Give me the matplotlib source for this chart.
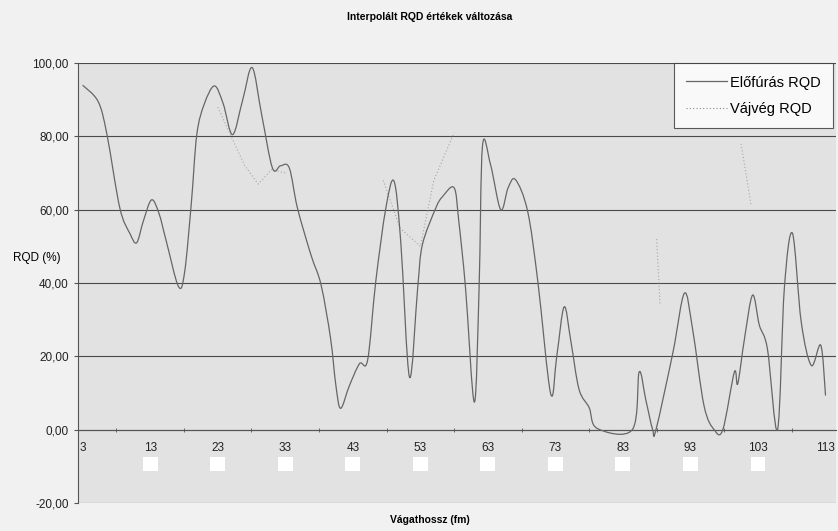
import numpy as np
import matplotlib
matplotlib.use('Agg')
import matplotlib.pyplot as plt
from matplotlib.patches import Rectangle, PathPatch
from matplotlib.path import Path
from matplotlib.lines import Line2D
from matplotlib.ticker import FuncFormatter

plt.rcParams['font.family'] = ['Liberation Sans', 'DejaVu Sans']

# Előfúrás RQD (fm, %)
elofuras_x = [3, 5.3, 6.6, 8.5, 10, 11, 12, 13.2, 14.3, 15.4, 17.2, 18.1, 19.1, 19.9,
              21, 22.5, 23.8, 25.2, 26.7, 28.1, 29.5, 31.1, 32.3, 33.6, 34.8, 36.8,
              38.3, 39.7, 40.5, 41.2, 42.5, 44, 45.2, 46.4, 47.9, 49.1, 50.1, 51.4,
              52.6, 53.3, 55.3, 56.3, 58, 58.7, 59.7, 61, 61.7, 62.2, 63.4, 64.9, 66,
              67.1, 68.9, 70.4, 72.3, 73.2, 74.3, 75.3, 76.5, 78, 79.2, 84.4, 85.4,
              86.4, 87.4, 87.9, 90.4, 92.1, 93.3, 95, 96.5, 97.8, 99.5, 100, 101,
              102.2, 103.2, 104.4, 105.9, 106.9, 108.1, 109.4, 110.9, 112.3, 113]
elofuras_rqd = [94, 89.5, 80.5, 60.5, 53.5, 51, 57, 62.7, 59, 51.3, 39, 43, 62, 80.5,
                88.8, 93.8, 89, 80.5, 90, 98.8, 86, 71.4, 72, 71.4, 60.5, 47.7,
                39.5, 25, 12, 5.8, 12, 18, 19, 40.4, 60.5, 67.8, 51.3, 14.3,
                38.5, 50.4, 60.5, 63.6, 66, 56.8, 38.5, 7.5, 38.5, 77.3, 72.3, 60, 66,
                68.2, 59.5, 40.4, 9.8, 20, 33.5, 24, 11, 6, 0.3, 0, 15.7,
                8, 0, 0, 21, 37.2, 27.6, 6.6, 0, 0, 15.7, 12.5, 24.8,
                36.7, 28.5, 22, 0, 38.5, 53.6, 29.4, 17.5, 23, 9.3]

# Vájvég RQD, only faint fragments are readable in the scan
vajveg_x = [23, 25, 27, 29, 31, 33, 46, 47.5, 50, 53, 55, 58, 86, 88, 88.5,
            99, 100.5, 102]
vajveg_rqd = [88, 80, 72, 67, 71, 70, np.nan, 68, 55, 50, 68, 81, np.nan, 52, 34,
              np.nan, 78, 61]

x_ticks = [3, 13, 23, 33, 43, 53, 63, 73, 83, 93, 103, 113]
y_ticks = [-20, 0, 20, 40, 60, 80, 100]


def smooth_path(xs, ys):
    # Excel-style smoothed line: Catmull-Rom segments as cubic Bezier curves
    xs = np.asarray(xs, float)
    ys = np.asarray(ys, float)
    verts = [(xs[0], ys[0])]
    codes = [Path.MOVETO]
    n = len(xs)
    for i in range(n - 1):
        p0 = (xs[max(i - 1, 0)], ys[max(i - 1, 0)])
        p1 = (xs[i], ys[i])
        p2 = (xs[i + 1], ys[i + 1])
        p3 = (xs[min(i + 2, n - 1)], ys[min(i + 2, n - 1)])
        c1 = (p1[0] + (p2[0] - p0[0]) / 6, p1[1] + (p2[1] - p0[1]) / 6)
        c2 = (p2[0] - (p3[0] - p1[0]) / 6, p2[1] - (p3[1] - p1[1]) / 6)
        verts += [c1, c2, p2]
        codes += [Path.CURVE4] * 3
    return Path(verts, codes)


fig = plt.figure(figsize=(8.38, 5.31), dpi=100, facecolor='#f1f1f1')
ax = fig.add_axes([0.093, 0.053, 0.905, 0.828])
ax.set_facecolor('#e2e2e2')

line_color = '#666666'
ax.add_patch(PathPatch(smooth_path(elofuras_x, elofuras_rqd), facecolor='none',
                       edgecolor=line_color, lw=0.9, zorder=3))
ax.plot(vajveg_x, vajveg_rqd, color='#a5a5a5', lw=0.8, ls=(0, (1, 2)), zorder=2)

ax.set_xlim(2.3, 114.6)
ax.set_ylim(-20, 100)
ax.set_yticks(y_ticks)
ax.yaxis.set_major_formatter(FuncFormatter(lambda v, p: f'{v:.2f}'.replace('.', ',')))
ax.grid(axis='y', color='#4a4a4a', lw=0.8)
ax.set_axisbelow(True)

ax.spines['bottom'].set_position(('data', 0))
ax.spines['bottom'].set_color('#555555')
ax.spines['left'].set_color('#555555')
ax.spines['top'].set_visible(False)
ax.spines['right'].set_visible(False)

ax.set_xticks(x_ticks)
ax.set_xticks([t + 5 for t in x_ticks[:-1]] + [t for t in x_ticks], minor=True)
ax.tick_params(axis='x', which='major', length=0, pad=9, labelsize=8.5, colors='#222222')
ax.tick_params(axis='x', which='minor', length=3, direction='inout', color='#555555')
ax.tick_params(axis='y', length=3, labelsize=8.5, colors='#222222')
ax.tick_params(axis='y', color='#555555')

# white patches under the category labels, as in the scan
for t in x_ticks[1:-1]:
    ax.add_patch(Rectangle((t - 1.1, -7.4), 2.2, -3.9, facecolor='white',
                           edgecolor='none', zorder=0))

fig.text(0.513, 0.021, 'Vágathossz (fm)', fontsize=7.5, fontweight='bold',
         ha='center', va='center')
ax.set_ylabel('RQD (%)', fontsize=8.5, rotation=0, va='center', ha='center')
ax.yaxis.set_label_coords(-0.054, 0.558)
fig.suptitle('Interpolált RQD értékek változása', fontsize=7.5, fontweight='bold',
             x=0.513, y=0.978)

handles = [Line2D([], [], color=line_color, lw=0.9),
           Line2D([], [], color='#8a8a8a', lw=0.8, ls=(0, (1, 2)))]
leg = ax.legend(handles, ['Előfúrás RQD', 'Vájvég RQD'], loc='upper right',
                bbox_to_anchor=(0.996, 1.0), fontsize=10.5, frameon=True, fancybox=False,
                handlelength=2.8, borderpad=0.85, labelspacing=0.85, handletextpad=0.2,
                borderaxespad=0.0)
leg.get_frame().set_edgecolor('#333333')
leg.get_frame().set_linewidth(0.8)
leg.get_frame().set_facecolor('white')

fig.savefig('out.png', dpi=100, facecolor=fig.get_facecolor())
